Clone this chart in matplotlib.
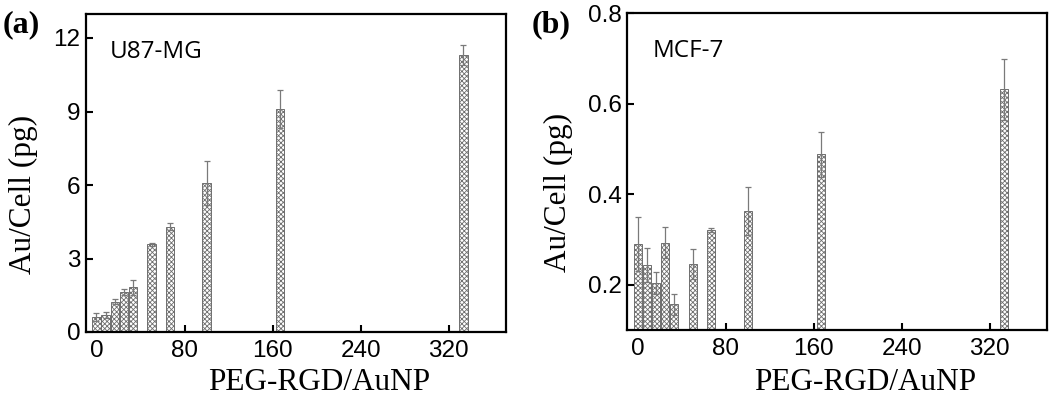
import matplotlib
matplotlib.use("Agg")
import matplotlib.pyplot as plt

# ---- data ----
ratios = [0, 8.3, 16.7, 25, 33.3, 50, 66.7, 100, 166.7, 333.3]

u87_values = [0.60, 0.69, 1.24, 1.63, 1.83, 3.58, 4.30, 6.08, 9.10, 11.30]
u87_errors = [0.16, 0.11, 0.11, 0.11, 0.30, 0.06, 0.13, 0.88, 0.76, 0.42]

mcf7_values = [0.290, 0.243, 0.204, 0.293, 0.157, 0.246, 0.321, 0.363, 0.488, 0.632]
mcf7_errors = [0.059, 0.038, 0.024, 0.034, 0.023, 0.033, 0.005, 0.052, 0.049, 0.068]

xticks = [0, 80, 160, 240, 320]
u87_yticks = [0, 3, 6, 9, 12]
mcf7_yticks = [0.2, 0.4, 0.6, 0.8]

plt.rcParams['hatch.linewidth'] = 0.6
plt.rcParams['hatch.color'] = '#505050'

fig = plt.figure(figsize=(10.5, 4.0), dpi=100)
ax1 = fig.add_axes([86/1050, 1-332/400, 420/1050, 318.5/400])
ax2 = fig.add_axes([627.3/1050, 1-330/400, 419.4/1050, 316.7/400])

tick_font = dict(family='Liberation Sans', size=17.5)
label_font = dict(family='Liberation Serif', size=22.5)


def draw(ax, vals, errs, ylim, yticks, ytl, cell, cellpos):
    ax.bar(ratios, vals, width=7.5, color='white', edgecolor='#6e6e6e',
           linewidth=0.7, hatch='xxxxxxx', zorder=2)
    ax.errorbar(ratios, vals, yerr=errs, fmt='none', ecolor='#7a7a7a',
                elinewidth=0.9, capsize=2.2, capthick=0.9, zorder=3)
    ax.set_xlim(-9.5, 372)
    ax.set_ylim(*ylim)
    ax.set_xticks(xticks)
    ax.set_xticklabels([str(t) for t in xticks], fontdict=tick_font)
    ax.set_yticks(yticks)
    ax.set_yticklabels(ytl, fontdict=tick_font)
    ax.tick_params(direction='in', length=5, width=1.5, top=False, right=False)
    ax.tick_params(axis='x', pad=6)
    ax.tick_params(axis='y', pad=4)
    for s in ax.spines.values():
        s.set_linewidth(1.6)
    ax.set_xlabel('PEG-RGD/AuNP', fontdict=label_font)
    ax.set_ylabel('Au/Cell (pg)', fontdict=label_font)
    ax.text(cellpos[0], cellpos[1], cell, transform=ax.transAxes,
            family='Open Sans', fontsize=17.5, va='baseline', ha='left')


draw(ax1, u87_values, u87_errors, (0, 13), u87_yticks,
     [str(t) for t in u87_yticks], 'U87-MG', (0.057, 0.86))
draw(ax2, mcf7_values, mcf7_errors, (0.1, 0.8), mcf7_yticks,
     ['%.1f' % t for t in mcf7_yticks], 'MCF-7', (0.061, 0.862))

ax1.xaxis.set_label_coords(0.555, -0.113)
ax2.xaxis.set_label_coords(0.567, -0.12)
ax1.yaxis.set_label_coords(-0.114, 0.433)
ax2.yaxis.set_label_coords(-0.129, 0.433)

fig.text(3/1050, 1-32/400, '(a)', family='Liberation Serif', fontweight='bold',
         fontsize=23, va='baseline', ha='left')
fig.text(532/1050, 1-32/400, '(b)', family='Liberation Serif', fontweight='bold',
         fontsize=23, va='baseline', ha='left')

fig.savefig('out.png', dpi=100)
